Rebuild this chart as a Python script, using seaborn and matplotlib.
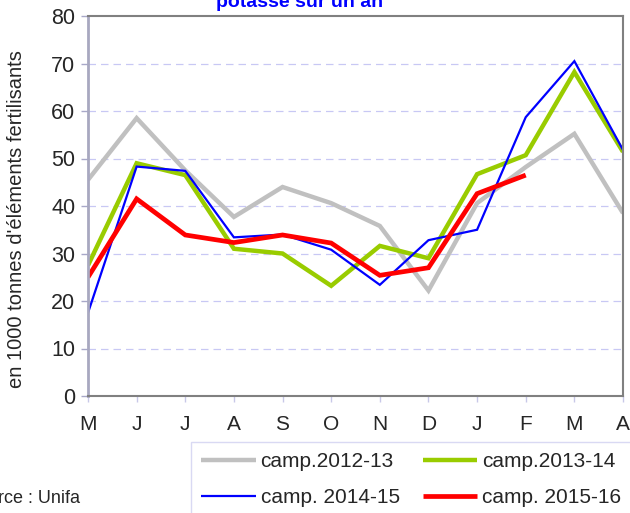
import matplotlib
matplotlib.use("Agg")
import matplotlib.pyplot as plt
import seaborn as sns
import pandas as pd

months = ["M", "J", "J", "A", "S", "O", "N", "D", "J", "F", "M", "A"]
camp_2012_13 = [45.5, 58.5, 47.5, 37.7, 44.0, 40.6, 35.8, 22.2, 40.6, 48.2, 55.2, 38.5]
camp_2013_14 = [27.5, 49.0, 46.5, 31.0, 30.0, 23.2, 31.6, 29.0, 46.7, 50.7, 68.2, 51.4]
camp_2014_15 = [17.5, 48.3, 47.4, 33.4, 34.0, 30.8, 23.4, 32.8, 35.0, 58.7, 70.5, 51.8]
camp_2015_16 = [25.0, 41.5, 33.9, 32.3, 33.9, 32.2, 25.4, 27.0, 42.6, 46.5]
series_names = ["camp.2012-13", "camp.2013-14", "camp. 2014-15", "camp. 2015-16"]
yticks = [0, 10, 20, 30, 40, 50, 60, 70, 80]

sns.set_theme(style="white")
plt.rcParams["font.family"] = ["Liberation Sans", "DejaVu Sans"]

rows = []
for name, vals in zip(series_names, [camp_2012_13, camp_2013_14, camp_2014_15, camp_2015_16]):
    for i, v in enumerate(vals):
        rows.append({"pos": i, "value": v, "serie": name})
df = pd.DataFrame(rows)

colors = {"camp.2012-13": "#C0C0C0", "camp.2013-14": "#99CC00",
          "camp. 2014-15": "#0000FF", "camp. 2015-16": "#FF0000"}
widths = {"camp.2012-13": 3.2, "camp.2013-14": 3.2, "camp. 2014-15": 1.6, "camp. 2015-16": 3.4}

fig = plt.figure(figsize=(6.3, 5.13), dpi=100)
ax = fig.add_axes([88/630, 1-396/513, (623-88)/630, (396-16)/513])

for name in series_names:
    sub = df[df["serie"] == name]
    sns.lineplot(data=sub, x="pos", y="value", ax=ax, color=colors[name],
                 linewidth=widths[name], label=name, legend=False,
                 solid_joinstyle="miter", solid_capstyle="butt")

ax.set_xlim(0, len(months) - 1)
ax.set_ylim(0, 80)
ax.set_yticks(yticks)
ax.set_yticklabels([str(t) for t in yticks], fontsize=15.5)
ax.set_xticks(range(len(months)))
ax.set_xticklabels(months, fontsize=15)
ax.set_xlabel("")
ax.set_ylabel("")
for t in yticks[1:-1]:
    ax.axhline(t, color="#C8C8F4", lw=0.9, ls=(0, (6, 4)), zorder=0)
ax.tick_params(axis="y", direction="out", length=5, width=1, color="#A8A8C8", pad=4, left=True)
ax.tick_params(axis="x", direction="out", length=4, width=1, color="#C8C8E8", pad=10, bottom=True)
ax.spines["left"].set_color("#A8A8C0")
ax.spines["left"].set_linewidth(2)
for s in ["top", "right", "bottom"]:
    ax.spines[s].set_color("#808080")
    ax.spines[s].set_linewidth(1.5)

fig.text(17/630, 1-219/513, "en 1000 tonnes d'éléments fertilisants", rotation=90,
         ha="center", va="center", fontsize=14.5)
fig.text(300/630, 1-7/513, "potasse sur un an", ha="center", va="baseline",
         fontsize=14, fontweight="bold", color="#0000FF")
fig.text(80/630, 1-503/513, "Source : Unifa", ha="right", va="baseline", fontsize=13)

handles, labels = ax.get_legend_handles_labels()
order = [0, 2, 1, 3]
leg = fig.legend([handles[i] for i in order], [labels[i] for i in order], ncol=2,
                 loc="upper left", bbox_to_anchor=(191/630, 1-442/513),
                 fontsize=15, frameon=True, fancybox=False, handlelength=2.6,
                 handletextpad=0.24, columnspacing=1.1, borderpad=0.5, labelspacing=0.82,
                 borderaxespad=0)
leg.get_frame().set_edgecolor("#D0D0F0")
leg.get_frame().set_linewidth(1)

fig.savefig("out.png", dpi=100)
